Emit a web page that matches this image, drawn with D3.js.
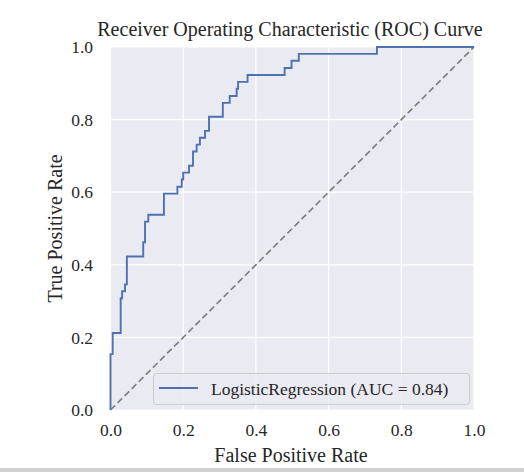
<!DOCTYPE html>
<html>
<head>
<meta charset="utf-8">
<script src="https://cdn.jsdelivr.net/npm/d3@7"></script>
<style>
  html, body { margin: 0; padding: 0; background: #fff; }
  svg { display: block; }
</style>
</head>
<body>
<svg id="chart" width="524" height="472"></svg>
<script>
// ---- data ----
const fpr = [0, 0, 0.006, 0.006, 0.028, 0.028, 0.032, 0.032, 0.040, 0.040, 0.045, 0.045,
  0.090, 0.090, 0.095, 0.095, 0.104, 0.104, 0.147, 0.147, 0.184, 0.184, 0.196, 0.196,
  0.200, 0.200, 0.216, 0.216, 0.227, 0.227, 0.237, 0.237, 0.246, 0.246, 0.260, 0.260,
  0.271, 0.271, 0.309, 0.309, 0.328, 0.328, 0.347, 0.347, 0.351, 0.351, 0.377, 0.377,
  0.479, 0.479, 0.498, 0.498, 0.518, 0.518, 0.733, 0.733, 1.0];
const tpr = [0, 0.154, 0.154, 0.212, 0.212, 0.308, 0.308, 0.327, 0.327, 0.346, 0.346, 0.423,
  0.423, 0.462, 0.462, 0.519, 0.519, 0.538, 0.538, 0.596, 0.596, 0.615, 0.615, 0.635,
  0.635, 0.654, 0.654, 0.673, 0.673, 0.712, 0.712, 0.731, 0.731, 0.750, 0.750, 0.769,
  0.769, 0.808, 0.808, 0.846, 0.846, 0.865, 0.865, 0.885, 0.885, 0.904, 0.904, 0.923,
  0.923, 0.942, 0.942, 0.962, 0.962, 0.981, 0.981, 1.0, 1.0];
const chanceX = [0, 1];
const chanceY = [0, 1];
const tickValues = [0, 0.2, 0.4, 0.6, 0.8, 1.0];
const tickLabels = ["0.0", "0.2", "0.4", "0.6", "0.8", "1.0"];
const titleText = "Receiver Operating Characteristic (ROC) Curve";
const xLabelText = "False Positive Rate";
const yLabelText = "True Positive Rate";
const legendText = "LogisticRegression (AUC = 0.84)";

(function () {
// ---- layout ----
const svg = d3.select("#chart");
const pl = 110.5, pr = 474, pt = 47, pb = 410;
const x = d3.scaleLinear().domain([0, 1]).range([pl, pr]);
const y = d3.scaleLinear().domain([0, 1]).range([pb, pt]);
const serif = "'Liberation Serif', 'Times New Roman', serif";

svg.append("rect").attr("x", 0).attr("y", 0).attr("width", 524).attr("height", 472).attr("fill", "#fff");

// plot background
svg.append("rect")
  .attr("x", pl).attr("y", pt)
  .attr("width", pr - pl).attr("height", pb - pt)
  .attr("fill", "#eaeaf2");

// grid
const g = svg.append("g");
g.selectAll("line.vg").data(tickValues).enter().append("line")
  .attr("x1", d => x(d)).attr("x2", d => x(d))
  .attr("y1", pt).attr("y2", pb)
  .attr("stroke", "#fff").attr("stroke-width", 1.2);
g.selectAll("line.hg").data(tickValues).enter().append("line")
  .attr("y1", d => y(d)).attr("y2", d => y(d))
  .attr("x1", pl).attr("x2", pr)
  .attr("stroke", "#fff").attr("stroke-width", 1.2);

// axes (labels only, seaborn darkgrid style)
const fmt = d => tickLabels[tickValues.indexOf(d)];
const xAxis = svg.append("g").attr("transform", `translate(0,${pb})`)
  .call(d3.axisBottom(x).tickValues(tickValues).tickFormat(fmt).tickSize(0).tickPadding(14));
const yAxis = svg.append("g").attr("transform", `translate(${pl},0)`)
  .call(d3.axisLeft(y).tickValues(tickValues).tickFormat(fmt).tickSize(0).tickPadding(17.5));
[xAxis, yAxis].forEach(a => {
  a.select(".domain").remove();
  a.selectAll("text").attr("font-family", serif).attr("font-size", 17.5).attr("fill", "#262626");
});

// chance line
svg.append("path")
  .datum(chanceX.map((d, i) => [d, chanceY[i]]))
  .attr("d", d3.line().x(d => x(d[0])).y(d => y(d[1])))
  .attr("fill", "none").attr("stroke", "#808080").attr("stroke-width", 1.7)
  .attr("stroke-dasharray", "6.5,3.5");

// ROC curve
svg.append("path")
  .datum(fpr.map((d, i) => [d, tpr[i]]))
  .attr("d", d3.line().x(d => x(d[0])).y(d => y(d[1])))
  .attr("fill", "none").attr("stroke", "#4c72b0").attr("stroke-width", 1.9)
  .attr("stroke-linejoin", "miter");

// legend
const lg = svg.append("g");
lg.append("rect").attr("x", 153.5).attr("y", 373.5).attr("width", 316).attr("height", 31)
  .attr("rx", 3).attr("fill", "#eaeaf2").attr("fill-opacity", 0.8)
  .attr("stroke", "#cccccc").attr("stroke-width", 1);
lg.append("line").attr("x1", 159).attr("x2", 198).attr("y1", 388).attr("y2", 388)
  .attr("stroke", "#4c72b0").attr("stroke-width", 1.9);
lg.append("text").attr("x", 211).attr("y", 394.5).text(legendText)
  .attr("font-family", serif).attr("font-size", 17.5).attr("fill", "#262626");

// title and axis labels
svg.append("text").attr("x", 290).attr("y", 35.5).attr("text-anchor", "middle")
  .attr("font-family", serif).attr("font-size", 20).attr("fill", "#262626").text(titleText);
svg.append("text").attr("x", 291).attr("y", 461.5).attr("text-anchor", "middle")
  .attr("font-family", serif).attr("font-size", 20).attr("fill", "#262626").text(xLabelText);
svg.append("text").attr("transform", `translate(62,${(pt + pb) / 2}) rotate(-90)`)
  .attr("text-anchor", "middle")
  .attr("font-family", serif).attr("font-size", 20).attr("fill", "#262626").text(yLabelText);

svg.append("rect").attr("x", 0).attr("y", 468).attr("width", 524).attr("height", 4)
  .attr("fill", "#d0d0d0");
})();
</script>
</body>
</html>
